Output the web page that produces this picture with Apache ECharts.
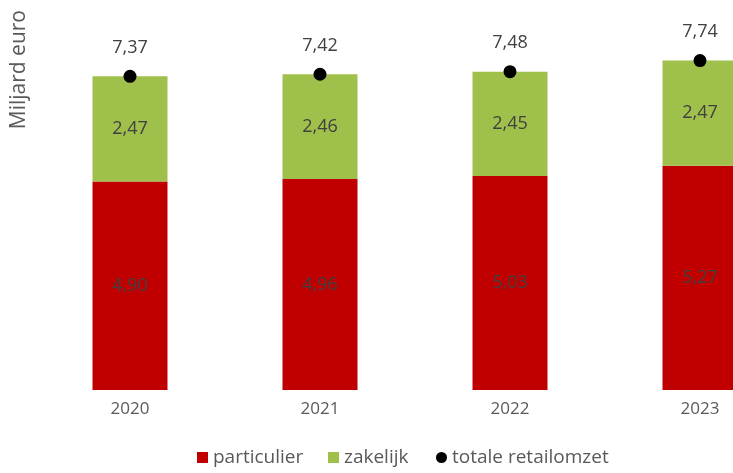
<!DOCTYPE html>
<html>
<head>
<meta charset="utf-8">
<script src="https://cdn.jsdelivr.net/npm/echarts@6/dist/echarts.min.js"></script>
<style>
  html, body { margin: 0; padding: 0; background: #fff; overflow: hidden; }
  #chart { width: 795px; height: 473px; }
</style>
</head>
<body>
<div id="chart"></div>
<script>
var years = ['2020', '2021', '2022', '2023']
var particulier = [4.90, 4.96, 5.03, 5.27]
var zakelijk = [2.47, 2.46, 2.45, 2.47]
var totaal = [7.37, 7.42, 7.48, 7.74]

var font = 'Open Sans'
function nl (p) {
  return p.value.toFixed(2).replace('.', ',')
}

function legendItem (name, icon, left) {
  return {
    bottom: 1,
    left: left,
    itemWidth: 11,
    itemHeight: 11,
    textStyle: { color: '#595959', fontSize: 19 },
    data: [{ name: name, icon: icon }]
  }
}

// chart is a bit wider than the window: the last bar is cut off like in the original
var chart = echarts.init(document.getElementById('chart'))
var option = {
  backgroundColor: '#fff',
  animation: false,
  textStyle: { fontFamily: font },
  grid: { left: 35, right: 0, top: 7, height: 383 },
  xAxis: {
    type: 'category',
    data: years,
    axisLine: { show: false },
    axisTick: { show: false },
    axisLabel: { color: '#595959', fontSize: 17, margin: 11 }
  },
  yAxis: {
    type: 'value',
    min: 0,
    max: 9,
    show: false
  },
  legend: [
    legendItem('particulier', 'rect', 192),
    legendItem('zakelijk', 'rect', 323),
    legendItem('totale retailomzet', 'circle', 431)
  ],
  graphic: [{
    type: 'text',
    left: 9,
    top: 10,
    rotation: Math.PI / 2,
    style: {
      text: 'Miljard euro',
      fill: '#595959',
      font: '21px "Open Sans"'
    }
  }],
  series: [
    {
      name: 'particulier',
      type: 'bar',
      stack: 'omzet',
      barWidth: 75,
      data: particulier,
      itemStyle: { color: '#C00000' },
      label: { show: true, position: 'inside', color: '#404040', fontSize: 18, formatter: nl }
    },
    {
      name: 'zakelijk',
      type: 'bar',
      stack: 'omzet',
      barWidth: 75,
      data: zakelijk,
      itemStyle: { color: '#A0C04C' },
      label: { show: true, position: 'inside', color: '#404040', fontSize: 18, formatter: nl }
    },
    {
      name: 'totale retailomzet',
      type: 'scatter',
      data: totaal,
      symbol: 'circle',
      symbolSize: 13,
      itemStyle: { color: '#000', opacity: 1 },
      label: { show: true, position: 'top', distance: 13, color: '#404040', fontSize: 18, formatter: nl }
    }
  ]
}
chart.setOption(option)
</script>
</body>
</html>
